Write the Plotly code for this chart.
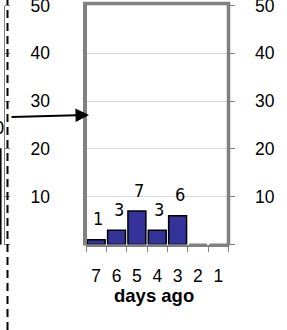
import plotly.graph_objects as go

# ---- data ----
categories = ['7', '6', '5', '4', '3', '2', '1']
values = [1, 3, 7, 3, 6, 0, 0]
bar_labels = ['1', '3', '7', '3', '6', '', '']
y_tick_vals = [0, 10, 20, 30, 40, 50]
y_tick_text = ['', '10', '20', '30', '40', '50']
x_title = 'days ago'

# partially visible neighbouring chart (only its last bar edge shows)
left_categories = ['1']
left_values = [20]
left_labels = ['20']

W, H = 287, 330
def px(p):
    return p / W
def py(p):
    return 1 - p / H

GRAY = '#808080'
BLUE = '#333399'
FONT = 'Liberation Sans, Arial, sans-serif'
NARROW = 'Liberation Sans Narrow, Arial Narrow, DejaVu Sans Condensed, sans-serif'
TICK = 17.5

ydom = [py(244.5), py(5.5)]

fig = go.Figure()
fig.add_trace(go.Bar(
    x=categories, y=values, xaxis='x', yaxis='y',
    marker=dict(color=BLUE, line=dict(color='black', width=1.5)),
    width=0.88, hoverinfo='skip', showlegend=False,
))
fig.add_trace(go.Bar(
    x=left_categories, y=left_values, xaxis='x2', yaxis='y2',
    marker=dict(color=BLUE, line=dict(color='black', width=1.5)),
    width=0.88, hoverinfo='skip', showlegend=False,
))

annotations = []
for i, (v, t) in enumerate(zip(values, bar_labels)):
    if t:
        annotations.append(dict(
            x=i, y=v, xref='x', yref='y', text=t, showarrow=False,
            yanchor='middle', xanchor='center', yshift=21, xshift=2,
            font=dict(family=NARROW, size=18, color='black')))
for v, t in zip(left_values, left_labels):
    annotations.append(dict(
        x=px(-5.5), y=v, xref='paper', yref='y2', text=t, showarrow=False,
        yanchor='middle', xanchor='center', yshift=21,
        font=dict(family=NARROW, size=18, color='black')))
# axis title
annotations.append(dict(
    x=px(154), y=py(295.5), xref='paper', yref='paper',
    text='<b>' + x_title + '</b>', showarrow=False,
    xanchor='center', yanchor='middle',
    font=dict(family=FONT, size=18.5, color='black')))
# arrow
annotations.append(dict(
    x=px(89), y=py(115), xref='paper', yref='paper', text='',
    showarrow=True, ax=-79, ay=2, arrowhead=2, arrowsize=1.35,
    arrowwidth=2, arrowcolor='black'))

shapes = [
    # plot frame (left, top, right)
    dict(type='line', xref='paper', yref='paper', x0=px(85), x1=px(85),
         y0=py(245.5), y1=py(2), line=dict(color=GRAY, width=4)),
    dict(type='line', xref='paper', yref='paper', x0=px(83), x1=px(230),
         y0=py(3.5), y1=py(3.5), line=dict(color=GRAY, width=3.5)),
    dict(type='line', xref='paper', yref='paper', x0=px(228.5), x1=px(228.5),
         y0=py(245.5), y1=py(2), line=dict(color=GRAY, width=3.5)),
    # dashed separator
    dict(type='line', xref='paper', yref='paper', x0=px(7.5), x1=px(7.5),
         y0=0, y1=1, line=dict(color='black', width=2, dash='8px,5px')),
]

fig.update_layout(
    width=W, height=H,
    margin=dict(l=0, r=0, t=0, b=0, pad=0),
    paper_bgcolor='white', plot_bgcolor='white',
    font=dict(family=FONT, size=TICK, color='black'),
    showlegend=False,
    xaxis=dict(
        domain=[px(86), px(228.5)], anchor='y', type='category',
        categoryorder='array', categoryarray=categories,
        range=[-0.5, 6.5], tickmode='linear', tick0=0, dtick=1,
        showline=True, linecolor=GRAY, linewidth=2,
        ticks='outside', tickson='boundaries', ticklen=5, tickcolor=GRAY,
        tickwidth=1, tickfont=dict(size=TICK), ticklabelstandoff=14,
        showgrid=False, zeroline=False, fixedrange=True,
        automargin=False, ticklabeloverflow='allow',
    ),
    yaxis=dict(
        domain=ydom, anchor='x', side='right', range=[0, 50],
        tickmode='array', tickvals=y_tick_vals, ticktext=y_tick_text,
        ticks='outside', ticklen=5, tickcolor=GRAY, tickwidth=1,
        tickfont=dict(size=TICK), ticklabelstandoff=17,
        showgrid=True, gridcolor='#d9d9d9', gridwidth=1,
        showline=False, zeroline=False, fixedrange=True, automargin=False,
        ticklabeloverflow='allow',
    ),
    xaxis2=dict(
        domain=[0, px(4)], anchor='y2', type='category',
        categoryorder='array', categoryarray=categories,
        range=[6.4, 6.6], visible=False, fixedrange=True,
    ),
    yaxis2=dict(
        domain=ydom, anchor='x2', side='right', range=[0, 50],
        tickmode='array', tickvals=y_tick_vals, ticktext=y_tick_text,
        ticks='outside', ticklen=5, tickcolor=GRAY, tickwidth=1,
        tickfont=dict(size=TICK), ticklabelstandoff=17,
        showgrid=False, showline=True, linecolor=GRAY, linewidth=1,
        zeroline=False, fixedrange=True, automargin=False,
        ticklabeloverflow='allow',
    ),
    annotations=annotations,
    shapes=shapes,
)

fig.write_html('out.html', config={'displayModeBar': False},
               post_script="document.body.style.margin='0';document.body.style.overflow='hidden';")
